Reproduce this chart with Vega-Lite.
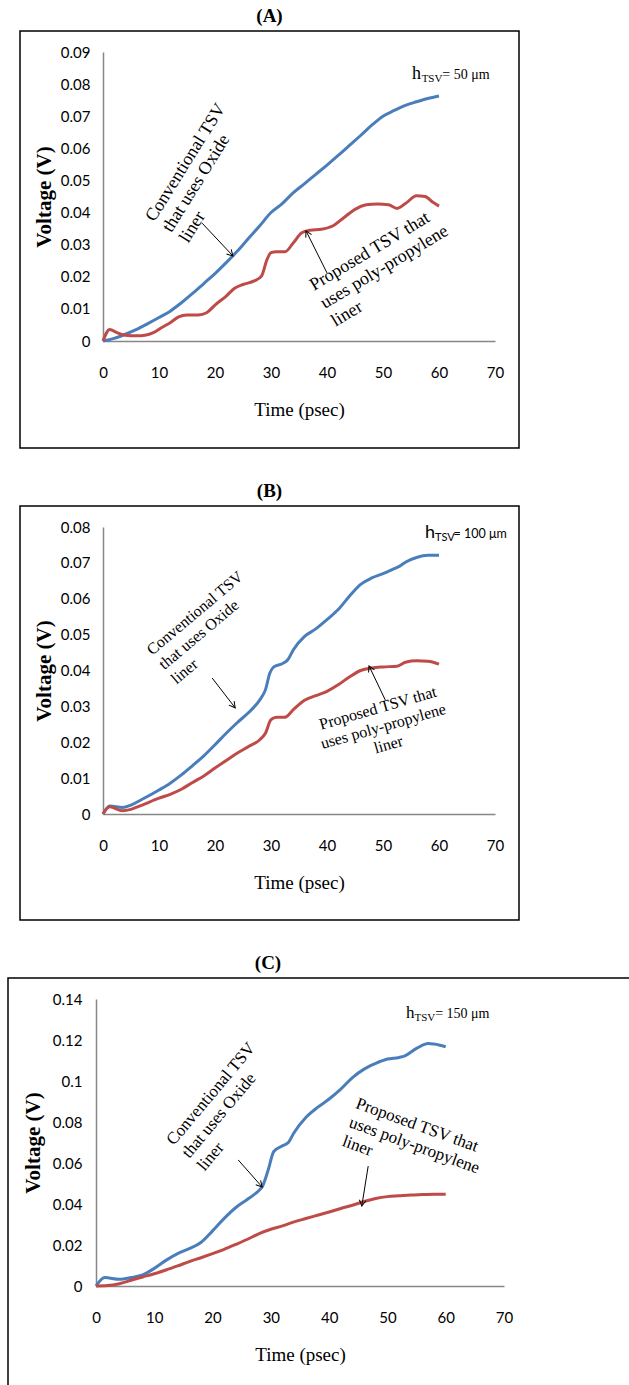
{
  "$schema": "https://vega.github.io/schema/vega-lite/v6.json",
  "padding": {"left": 7, "top": 6, "right": 0, "bottom": 0},
  "background": "white",
  "spacing": 32,
  "config": {
    "view": {"stroke": null},
    "axis": {"grid": false, "ticks": false, "domainColor": "#878787", "domainWidth": 1.5, "labelFont": "Lato, sans-serif", "labelFontSize": 15, "labelColor": "#000", "titleColor": "#000", "labelFlush": false, "labelOverlap": false},
    "title": {"font": "Liberation Serif", "fontSize": 19, "fontWeight": "bold", "color": "#000", "offset": 5},
    "text": {"font": "Liberation Serif", "color": "#000"}
  },
  "datasets": {
    "A": [
      {"t": 0, "v": 0, "s": "Conventional"}, {"t": 2, "v": 0.0008, "s": "Conventional"}, {"t": 4, "v": 0.0021, "s": "Conventional"}, {"t": 6, "v": 0.0036, "s": "Conventional"}, {"t": 8, "v": 0.0054, "s": "Conventional"}, {"t": 10, "v": 0.0073, "s": "Conventional"}, {"t": 12, "v": 0.0093, "s": "Conventional"}, {"t": 14, "v": 0.0119, "s": "Conventional"}, {"t": 16, "v": 0.0148, "s": "Conventional"}, {"t": 18, "v": 0.0179, "s": "Conventional"}, {"t": 20, "v": 0.021, "s": "Conventional"}, {"t": 22, "v": 0.0244, "s": "Conventional"}, {"t": 24, "v": 0.028, "s": "Conventional"}, {"t": 26, "v": 0.032, "s": "Conventional"}, {"t": 28, "v": 0.0359, "s": "Conventional"}, {"t": 30, "v": 0.04, "s": "Conventional"}, {"t": 32, "v": 0.0428, "s": "Conventional"}, {"t": 34, "v": 0.0462, "s": "Conventional"}, {"t": 36, "v": 0.049, "s": "Conventional"}, {"t": 38, "v": 0.0519, "s": "Conventional"}, {"t": 40, "v": 0.0548, "s": "Conventional"}, {"t": 42, "v": 0.0578, "s": "Conventional"}, {"t": 44, "v": 0.0609, "s": "Conventional"}, {"t": 46, "v": 0.064, "s": "Conventional"}, {"t": 48, "v": 0.0672, "s": "Conventional"}, {"t": 50, "v": 0.07, "s": "Conventional"}, {"t": 52, "v": 0.0718, "s": "Conventional"}, {"t": 54, "v": 0.0734, "s": "Conventional"}, {"t": 56, "v": 0.0745, "s": "Conventional"}, {"t": 58, "v": 0.0755, "s": "Conventional"}, {"t": 60, "v": 0.0763, "s": "Conventional"},
      {"t": 0, "v": 0, "s": "Proposed"}, {"t": 1.2, "v": 0.0036, "s": "Proposed"}, {"t": 2.5, "v": 0.0026, "s": "Proposed"}, {"t": 4, "v": 0.0018, "s": "Proposed"}, {"t": 6, "v": 0.0016, "s": "Proposed"}, {"t": 7.5, "v": 0.0018, "s": "Proposed"}, {"t": 9, "v": 0.0026, "s": "Proposed"}, {"t": 10.5, "v": 0.0042, "s": "Proposed"}, {"t": 12, "v": 0.0057, "s": "Proposed"}, {"t": 13.5, "v": 0.0075, "s": "Proposed"}, {"t": 15, "v": 0.0081, "s": "Proposed"}, {"t": 17, "v": 0.0081, "s": "Proposed"}, {"t": 18.5, "v": 0.0088, "s": "Proposed"}, {"t": 20, "v": 0.0112, "s": "Proposed"}, {"t": 22, "v": 0.014, "s": "Proposed"}, {"t": 23.5, "v": 0.0164, "s": "Proposed"}, {"t": 25, "v": 0.0176, "s": "Proposed"}, {"t": 27, "v": 0.0187, "s": "Proposed"}, {"t": 28.3, "v": 0.0202, "s": "Proposed"}, {"t": 29.3, "v": 0.0254, "s": "Proposed"}, {"t": 30, "v": 0.0275, "s": "Proposed"}, {"t": 31, "v": 0.0278, "s": "Proposed"}, {"t": 32.5, "v": 0.0278, "s": "Proposed"}, {"t": 34, "v": 0.0306, "s": "Proposed"}, {"t": 35.5, "v": 0.0337, "s": "Proposed"}, {"t": 37, "v": 0.0345, "s": "Proposed"}, {"t": 39, "v": 0.0348, "s": "Proposed"}, {"t": 41, "v": 0.0358, "s": "Proposed"}, {"t": 43, "v": 0.0384, "s": "Proposed"}, {"t": 45, "v": 0.041, "s": "Proposed"}, {"t": 47, "v": 0.0424, "s": "Proposed"}, {"t": 49, "v": 0.0427, "s": "Proposed"}, {"t": 51, "v": 0.0424, "s": "Proposed"}, {"t": 52.5, "v": 0.0413, "s": "Proposed"}, {"t": 54, "v": 0.0428, "s": "Proposed"}, {"t": 56, "v": 0.0452, "s": "Proposed"}, {"t": 57.5, "v": 0.045, "s": "Proposed"}, {"t": 59, "v": 0.0431, "s": "Proposed"}, {"t": 60, "v": 0.042, "s": "Proposed"}
    ],
    "B": [
      {"t": 0, "v": 0, "s": "Conventional"}, {"t": 1.2, "v": 0.0022, "s": "Conventional"}, {"t": 3.5, "v": 0.0018, "s": "Conventional"}, {"t": 5, "v": 0.0025, "s": "Conventional"}, {"t": 7, "v": 0.0041, "s": "Conventional"}, {"t": 10, "v": 0.0067, "s": "Conventional"}, {"t": 12, "v": 0.0086, "s": "Conventional"}, {"t": 14, "v": 0.0109, "s": "Conventional"}, {"t": 16, "v": 0.0135, "s": "Conventional"}, {"t": 18, "v": 0.0162, "s": "Conventional"}, {"t": 20, "v": 0.0193, "s": "Conventional"}, {"t": 22, "v": 0.0225, "s": "Conventional"}, {"t": 24, "v": 0.0255, "s": "Conventional"}, {"t": 26, "v": 0.0283, "s": "Conventional"}, {"t": 28, "v": 0.0318, "s": "Conventional"}, {"t": 29, "v": 0.0346, "s": "Conventional"}, {"t": 29.8, "v": 0.0393, "s": "Conventional"}, {"t": 30.5, "v": 0.041, "s": "Conventional"}, {"t": 32, "v": 0.0419, "s": "Conventional"}, {"t": 33, "v": 0.043, "s": "Conventional"}, {"t": 34, "v": 0.0458, "s": "Conventional"}, {"t": 36, "v": 0.0495, "s": "Conventional"}, {"t": 38, "v": 0.0516, "s": "Conventional"}, {"t": 40, "v": 0.0542, "s": "Conventional"}, {"t": 42, "v": 0.057, "s": "Conventional"}, {"t": 44, "v": 0.0607, "s": "Conventional"}, {"t": 46, "v": 0.064, "s": "Conventional"}, {"t": 48, "v": 0.0658, "s": "Conventional"}, {"t": 50, "v": 0.067, "s": "Conventional"}, {"t": 52, "v": 0.0684, "s": "Conventional"}, {"t": 53, "v": 0.0691, "s": "Conventional"}, {"t": 54, "v": 0.0702, "s": "Conventional"}, {"t": 56, "v": 0.0715, "s": "Conventional"}, {"t": 58, "v": 0.0721, "s": "Conventional"}, {"t": 60, "v": 0.0721, "s": "Conventional"},
      {"t": 0, "v": 0, "s": "Proposed"}, {"t": 1.2, "v": 0.002, "s": "Proposed"}, {"t": 3.5, "v": 0.0009, "s": "Proposed"}, {"t": 5, "v": 0.0013, "s": "Proposed"}, {"t": 7, "v": 0.0025, "s": "Proposed"}, {"t": 10, "v": 0.0044, "s": "Proposed"}, {"t": 12, "v": 0.0055, "s": "Proposed"}, {"t": 14, "v": 0.0069, "s": "Proposed"}, {"t": 16, "v": 0.0088, "s": "Proposed"}, {"t": 18, "v": 0.0106, "s": "Proposed"}, {"t": 20, "v": 0.0128, "s": "Proposed"}, {"t": 22, "v": 0.0149, "s": "Proposed"}, {"t": 24, "v": 0.017, "s": "Proposed"}, {"t": 26, "v": 0.0188, "s": "Proposed"}, {"t": 28, "v": 0.0207, "s": "Proposed"}, {"t": 29, "v": 0.0225, "s": "Proposed"}, {"t": 30, "v": 0.0263, "s": "Proposed"}, {"t": 31, "v": 0.027, "s": "Proposed"}, {"t": 32.5, "v": 0.027, "s": "Proposed"}, {"t": 34, "v": 0.0291, "s": "Proposed"}, {"t": 36, "v": 0.0317, "s": "Proposed"}, {"t": 38, "v": 0.033, "s": "Proposed"}, {"t": 40, "v": 0.0342, "s": "Proposed"}, {"t": 42, "v": 0.036, "s": "Proposed"}, {"t": 44, "v": 0.0382, "s": "Proposed"}, {"t": 46, "v": 0.04, "s": "Proposed"}, {"t": 48, "v": 0.0407, "s": "Proposed"}, {"t": 50, "v": 0.041, "s": "Proposed"}, {"t": 52.5, "v": 0.0412, "s": "Proposed"}, {"t": 54, "v": 0.0423, "s": "Proposed"}, {"t": 56, "v": 0.0427, "s": "Proposed"}, {"t": 58, "v": 0.0426, "s": "Proposed"}, {"t": 60, "v": 0.0418, "s": "Proposed"}
    ],
    "C": [
      {"t": 0, "v": 0, "s": "Conventional"}, {"t": 1.5, "v": 0.0041, "s": "Conventional"}, {"t": 4, "v": 0.0033, "s": "Conventional"}, {"t": 6, "v": 0.0041, "s": "Conventional"}, {"t": 8, "v": 0.0054, "s": "Conventional"}, {"t": 10, "v": 0.0086, "s": "Conventional"}, {"t": 12, "v": 0.0125, "s": "Conventional"}, {"t": 14, "v": 0.0158, "s": "Conventional"}, {"t": 16, "v": 0.0182, "s": "Conventional"}, {"t": 18, "v": 0.0212, "s": "Conventional"}, {"t": 20, "v": 0.0269, "s": "Conventional"}, {"t": 22, "v": 0.033, "s": "Conventional"}, {"t": 24, "v": 0.0383, "s": "Conventional"}, {"t": 26, "v": 0.0423, "s": "Conventional"}, {"t": 28, "v": 0.0467, "s": "Conventional"}, {"t": 28.5, "v": 0.0483, "s": "Conventional"}, {"t": 29.5, "v": 0.0562, "s": "Conventional"}, {"t": 30.5, "v": 0.0656, "s": "Conventional"}, {"t": 32, "v": 0.0684, "s": "Conventional"}, {"t": 33, "v": 0.07, "s": "Conventional"}, {"t": 34, "v": 0.0749, "s": "Conventional"}, {"t": 36, "v": 0.0822, "s": "Conventional"}, {"t": 38, "v": 0.0871, "s": "Conventional"}, {"t": 40, "v": 0.0912, "s": "Conventional"}, {"t": 42, "v": 0.096, "s": "Conventional"}, {"t": 44, "v": 0.1017, "s": "Conventional"}, {"t": 46, "v": 0.1058, "s": "Conventional"}, {"t": 48, "v": 0.1086, "s": "Conventional"}, {"t": 50, "v": 0.1107, "s": "Conventional"}, {"t": 52, "v": 0.1115, "s": "Conventional"}, {"t": 53, "v": 0.1123, "s": "Conventional"}, {"t": 55, "v": 0.1159, "s": "Conventional"}, {"t": 57, "v": 0.1183, "s": "Conventional"}, {"t": 58, "v": 0.118, "s": "Conventional"}, {"t": 60, "v": 0.1167, "s": "Conventional"},
      {"t": 0, "v": 0, "s": "Proposed"}, {"t": 2, "v": 0.0002, "s": "Proposed"}, {"t": 4, "v": 0.0011, "s": "Proposed"}, {"t": 6, "v": 0.0028, "s": "Proposed"}, {"t": 8, "v": 0.0044, "s": "Proposed"}, {"t": 10, "v": 0.006, "s": "Proposed"}, {"t": 12, "v": 0.0078, "s": "Proposed"}, {"t": 14, "v": 0.0098, "s": "Proposed"}, {"t": 16, "v": 0.0119, "s": "Proposed"}, {"t": 18, "v": 0.0138, "s": "Proposed"}, {"t": 20, "v": 0.0158, "s": "Proposed"}, {"t": 22, "v": 0.0179, "s": "Proposed"}, {"t": 24, "v": 0.0203, "s": "Proposed"}, {"t": 26, "v": 0.0228, "s": "Proposed"}, {"t": 28, "v": 0.0256, "s": "Proposed"}, {"t": 30, "v": 0.0277, "s": "Proposed"}, {"t": 32, "v": 0.0293, "s": "Proposed"}, {"t": 34, "v": 0.0313, "s": "Proposed"}, {"t": 36, "v": 0.0329, "s": "Proposed"}, {"t": 38, "v": 0.0345, "s": "Proposed"}, {"t": 40, "v": 0.0361, "s": "Proposed"}, {"t": 42, "v": 0.0378, "s": "Proposed"}, {"t": 44, "v": 0.0394, "s": "Proposed"}, {"t": 46, "v": 0.0412, "s": "Proposed"}, {"t": 48, "v": 0.0427, "s": "Proposed"}, {"t": 50, "v": 0.0436, "s": "Proposed"}, {"t": 52, "v": 0.044, "s": "Proposed"}, {"t": 54, "v": 0.0444, "s": "Proposed"}, {"t": 56, "v": 0.0446, "s": "Proposed"}, {"t": 58, "v": 0.0448, "s": "Proposed"}, {"t": 60, "v": 0.0448, "s": "Proposed"}
    ]
  },
  "vconcat": [
    {
      "spacing": 0,
      "hconcat": [
        {"width": 11, "height": 10, "data": {"values": [{}]}, "mark": {"type": "rect", "opacity": 0}, "encoding": {}},
        {
          "title": {"text": "(A)"},
          "width": 499, "height": 417,
          "view": {"stroke": "#000", "strokeWidth": 1.5},
          "layer": [
            {
              "data": {"name": "A"},
              "mark": {"type": "line", "strokeWidth": 3, "interpolate": "monotone"},
              "encoding": {
                "x": {"field": "t", "type": "quantitative", "scale": {"domain": [0, 70], "range": [83, 475], "nice": false}, "axis": {"title": "Time (psec)", "offset": -107, "values": [0, 10, 20, 30, 40, 50, 60, 70], "labelPadding": 24, "titlePadding": 20, "titleFont": "Liberation Serif", "titleFontSize": 19, "titleFontWeight": "normal"}},
                "y": {"field": "v", "type": "quantitative", "scale": {"domain": [0, 0.09], "range": [310, 21], "nice": false}, "axis": {"title": "Voltage (V)", "offset": -83, "values": [0, 0.01, 0.02, 0.03, 0.04, 0.05, 0.06, 0.07, 0.08, 0.09], "format": ".2~f", "labelPadding": 13, "titlePadding": 6, "titleFont": "Liberation Serif", "titleFontSize": 21, "titleFontWeight": "bold"}},
                "color": {"field": "s", "type": "nominal", "scale": {"domain": ["Conventional", "Proposed"], "range": ["#4A7EBB", "#BE4B48"]}, "legend": null}
              }
            },
            {"data": {"values": [{}]}, "mark": {"type": "text", "text": "h", "fontSize": 18, "align": "left", "baseline": "alphabetic"}, "encoding": {"x": {"datum": 55.2, "type": "quantitative"}, "y": {"datum": 0.0816, "type": "quantitative"}}},
            {"data": {"values": [{}]}, "mark": {"type": "text", "text": "TSV", "fontSize": 11, "align": "left", "baseline": "alphabetic"}, "encoding": {"x": {"datum": 56.9, "type": "quantitative"}, "y": {"datum": 0.0807, "type": "quantitative"}}},
            {"data": {"values": [{}]}, "mark": {"type": "text", "text": "= 50 μm", "fontSize": 14, "align": "left", "baseline": "alphabetic"}, "encoding": {"x": {"datum": 60.6, "type": "quantitative"}, "y": {"datum": 0.0816, "type": "quantitative"}}},
            {"data": {"values": [{}]}, "mark": {"type": "text", "text": ["Conventional TSV", "that uses Oxide", "liner"], "fontSize": 18, "lineHeight": 20, "align": "left", "baseline": "middle", "angle": -58}, "encoding": {"x": {"datum": 8.4, "type": "quantitative"}, "y": {"datum": 0.0377, "type": "quantitative"}}},
            {"data": {"values": [{}]}, "mark": {"type": "text", "text": ["Proposed TSV that", "uses poly-propylene", "liner"], "fontSize": 18, "lineHeight": 21, "align": "left", "baseline": "middle", "angle": -31}, "encoding": {"x": {"datum": 37.2, "type": "quantitative"}, "y": {"datum": 0.0169, "type": "quantitative"}}},
            {"data": {"values": [{}]}, "mark": {"type": "rule", "color": "#000", "strokeWidth": 1}, "encoding": {"x": {"datum": 17.7, "type": "quantitative"}, "y": {"datum": 0.0367, "type": "quantitative"}, "x2": {"datum": 23.2}, "y2": {"datum": 0.0265}}},
            {"data": {"values": [{}]}, "mark": {"type": "point", "shape": "M-0.55,1L0,0L0.55,1", "filled": false, "stroke": "#000", "strokeWidth": 1, "size": 140, "angle": 136, "opacity": 1}, "encoding": {"x": {"datum": 23.2, "type": "quantitative"}, "y": {"datum": 0.0265, "type": "quantitative"}}},
            {"data": {"values": [{}]}, "mark": {"type": "rule", "color": "#000", "strokeWidth": 1}, "encoding": {"x": {"datum": 40, "type": "quantitative"}, "y": {"datum": 0.0212, "type": "quantitative"}, "x2": {"datum": 36.25}, "y2": {"datum": 0.0343}}},
            {"data": {"values": [{}]}, "mark": {"type": "point", "shape": "M-0.55,1L0,0L0.55,1", "filled": false, "stroke": "#000", "strokeWidth": 1, "size": 140, "angle": -26.6, "opacity": 1}, "encoding": {"x": {"datum": 36.25, "type": "quantitative"}, "y": {"datum": 0.0343, "type": "quantitative"}}}
          ]
        }
      ]
    },
    {
      "spacing": 0,
      "hconcat": [
        {"width": 11, "height": 10, "data": {"values": [{}]}, "mark": {"type": "rect", "opacity": 0}, "encoding": {}},
        {
          "title": {"text": "(B)"},
          "width": 499, "height": 414,
          "view": {"stroke": "#000", "strokeWidth": 1.5},
          "layer": [
            {
              "data": {"name": "B"},
              "mark": {"type": "line", "strokeWidth": 3, "interpolate": "monotone"},
              "encoding": {
                "x": {"field": "t", "type": "quantitative", "scale": {"domain": [0, 70], "range": [83, 475], "nice": false}, "axis": {"title": "Time (psec)", "offset": -106, "values": [0, 10, 20, 30, 40, 50, 60, 70], "labelPadding": 24, "titlePadding": 20, "titleFont": "Liberation Serif", "titleFontSize": 19, "titleFontWeight": "normal"}},
                "y": {"field": "v", "type": "quantitative", "scale": {"domain": [0, 0.08], "range": [308, 21], "nice": false}, "axis": {"title": "Voltage (V)", "offset": -83, "values": [0, 0.01, 0.02, 0.03, 0.04, 0.05, 0.06, 0.07, 0.08], "format": ".2~f", "labelPadding": 13, "titlePadding": 6, "titleFont": "Liberation Serif", "titleFontSize": 21, "titleFontWeight": "bold"}},
                "color": {"field": "s", "type": "nominal", "scale": {"domain": ["Conventional", "Proposed"], "range": ["#4A7EBB", "#BE4B48"]}, "legend": null}
              }
            },
            {"data": {"values": [{}]}, "mark": {"type": "text", "text": "h", "font": "Lato, sans-serif", "fontSize": 18, "align": "left", "baseline": "alphabetic"}, "encoding": {"x": {"datum": 57.5, "type": "quantitative"}, "y": {"datum": 0.0769, "type": "quantitative"}}},
            {"data": {"values": [{}]}, "mark": {"type": "text", "text": "TSV", "font": "Lato, sans-serif", "fontSize": 11, "align": "left", "baseline": "alphabetic"}, "encoding": {"x": {"datum": 59.3, "type": "quantitative"}, "y": {"datum": 0.0761, "type": "quantitative"}}},
            {"data": {"values": [{}]}, "mark": {"type": "text", "text": "= 100 μm", "font": "Lato, sans-serif", "fontSize": 12.5, "align": "left", "baseline": "alphabetic"}, "encoding": {"x": {"datum": 62.6, "type": "quantitative"}, "y": {"datum": 0.0769, "type": "quantitative"}}},
            {"data": {"values": [{}]}, "mark": {"type": "text", "text": ["Conventional TSV", "that uses Oxide", "\u00a0\u00a0\u00a0\u00a0liner"], "fontSize": 16, "lineHeight": 19, "align": "left", "baseline": "middle", "angle": -40}, "encoding": {"x": {"datum": 8.2, "type": "quantitative"}, "y": {"datum": 0.0452, "type": "quantitative"}}},
            {"data": {"values": [{}]}, "mark": {"type": "text", "text": ["Proposed TSV that", "uses poly-propylene", "liner"], "fontSize": 16, "lineHeight": 19, "align": "center", "baseline": "middle", "angle": -16}, "encoding": {"x": {"datum": 49.1, "type": "quantitative"}, "y": {"datum": 0.0295, "type": "quantitative"}}},
            {"data": {"values": [{}]}, "mark": {"type": "rule", "color": "#000", "strokeWidth": 1}, "encoding": {"x": {"datum": 19.5, "type": "quantitative"}, "y": {"datum": 0.0379, "type": "quantitative"}, "x2": {"datum": 23.6}, "y2": {"datum": 0.0296}}},
            {"data": {"values": [{}]}, "mark": {"type": "point", "shape": "M-0.55,1L0,0L0.55,1", "filled": false, "stroke": "#000", "strokeWidth": 1, "size": 140, "angle": 142.5, "opacity": 1}, "encoding": {"x": {"datum": 23.6, "type": "quantitative"}, "y": {"datum": 0.0296, "type": "quantitative"}}},
            {"data": {"values": [{}]}, "mark": {"type": "rule", "color": "#000", "strokeWidth": 1}, "encoding": {"x": {"datum": 50.4, "type": "quantitative"}, "y": {"datum": 0.0318, "type": "quantitative"}, "x2": {"datum": 47.5}, "y2": {"datum": 0.0413}}},
            {"data": {"values": [{}]}, "mark": {"type": "point", "shape": "M-0.55,1L0,0L0.55,1", "filled": false, "stroke": "#000", "strokeWidth": 1, "size": 140, "angle": -25.2, "opacity": 1}, "encoding": {"x": {"datum": 47.5, "type": "quantitative"}, "y": {"datum": 0.0413, "type": "quantitative"}}}
          ]
        }
      ]
    },
    {
      "title": {"text": "(C)", "dx": -51},
      "width": 622, "height": 411,
      "view": {"stroke": "#000", "strokeWidth": 1.5},
      "layer": [
        {
          "data": {"name": "C"},
          "mark": {"type": "line", "strokeWidth": 3, "interpolate": "monotone"},
          "encoding": {
            "x": {"field": "t", "type": "quantitative", "scale": {"domain": [0, 70], "range": [88, 496], "nice": false}, "axis": {"title": "Time (psec)", "offset": -103, "values": [0, 10, 20, 30, 40, 50, 60, 70], "labelPadding": 24, "titlePadding": 20, "titleFont": "Liberation Serif", "titleFontSize": 19, "titleFontWeight": "normal"}},
            "y": {"field": "v", "type": "quantitative", "scale": {"domain": [0, 0.14], "range": [308, 21], "nice": false}, "axis": {"title": "Voltage (V)", "offset": -88, "values": [0, 0.02, 0.04, 0.06, 0.08, 0.1, 0.12, 0.14], "format": ".2~f", "labelPadding": 14, "titlePadding": 9, "titleFont": "Liberation Serif", "titleFontSize": 21, "titleFontWeight": "bold"}},
            "color": {"field": "s", "type": "nominal", "scale": {"domain": ["Conventional", "Proposed"], "range": ["#4A7EBB", "#BE4B48"]}, "legend": null}
          }
        },
        {"data": {"values": [{}]}, "mark": {"type": "text", "text": "h", "fontSize": 17, "align": "left", "baseline": "alphabetic"}, "encoding": {"x": {"datum": 53.2, "type": "quantitative"}, "y": {"datum": 0.1307, "type": "quantitative"}}},
        {"data": {"values": [{}]}, "mark": {"type": "text", "text": "TSV", "fontSize": 11, "align": "left", "baseline": "alphabetic"}, "encoding": {"x": {"datum": 54.65, "type": "quantitative"}, "y": {"datum": 0.1293, "type": "quantitative"}}},
        {"data": {"values": [{}]}, "mark": {"type": "text", "text": "= 150 μm", "fontSize": 14, "align": "left", "baseline": "alphabetic"}, "encoding": {"x": {"datum": 58.2, "type": "quantitative"}, "y": {"datum": 0.1307, "type": "quantitative"}}},
        {"data": {"values": [{}]}, "mark": {"type": "text", "text": ["Conventional TSV", "that uses Oxide", "liner"], "fontSize": 17, "lineHeight": 20, "align": "left", "baseline": "middle", "angle": -50}, "encoding": {"x": {"datum": 12.7, "type": "quantitative"}, "y": {"datum": 0.0698, "type": "quantitative"}}},
        {"data": {"values": [{}]}, "mark": {"type": "text", "text": ["Proposed TSV that", "uses poly-propylene", "\u00a0\u00a0\u00a0\u00a0\u00a0liner"], "fontSize": 17, "lineHeight": 20, "align": "left", "baseline": "middle", "angle": 20}, "encoding": {"x": {"datum": 44.7, "type": "quantitative"}, "y": {"datum": 0.0892, "type": "quantitative"}}},
        {"data": {"values": [{}]}, "mark": {"type": "rule", "color": "#000", "strokeWidth": 1}, "encoding": {"x": {"datum": 24.4, "type": "quantitative"}, "y": {"datum": 0.0615, "type": "quantitative"}, "x2": {"datum": 28.5}, "y2": {"datum": 0.0483}}},
        {"data": {"values": [{}]}, "mark": {"type": "point", "shape": "M-0.55,1L0,0L0.55,1", "filled": false, "stroke": "#000", "strokeWidth": 1, "size": 140, "angle": 138.4, "opacity": 1}, "encoding": {"x": {"datum": 28.5, "type": "quantitative"}, "y": {"datum": 0.0483, "type": "quantitative"}}},
        {"data": {"values": [{}]}, "mark": {"type": "rule", "color": "#000", "strokeWidth": 1}, "encoding": {"x": {"datum": 46.7, "type": "quantitative"}, "y": {"datum": 0.0585, "type": "quantitative"}, "x2": {"datum": 45.6}, "y2": {"datum": 0.039}}},
        {"data": {"values": [{}]}, "mark": {"type": "point", "shape": "M-0.55,1L0,0L0.55,1", "filled": false, "stroke": "#000", "strokeWidth": 1, "size": 140, "angle": -171.5, "opacity": 1}, "encoding": {"x": {"datum": 45.6, "type": "quantitative"}, "y": {"datum": 0.039, "type": "quantitative"}}}
      ]
    }
  ]
}
